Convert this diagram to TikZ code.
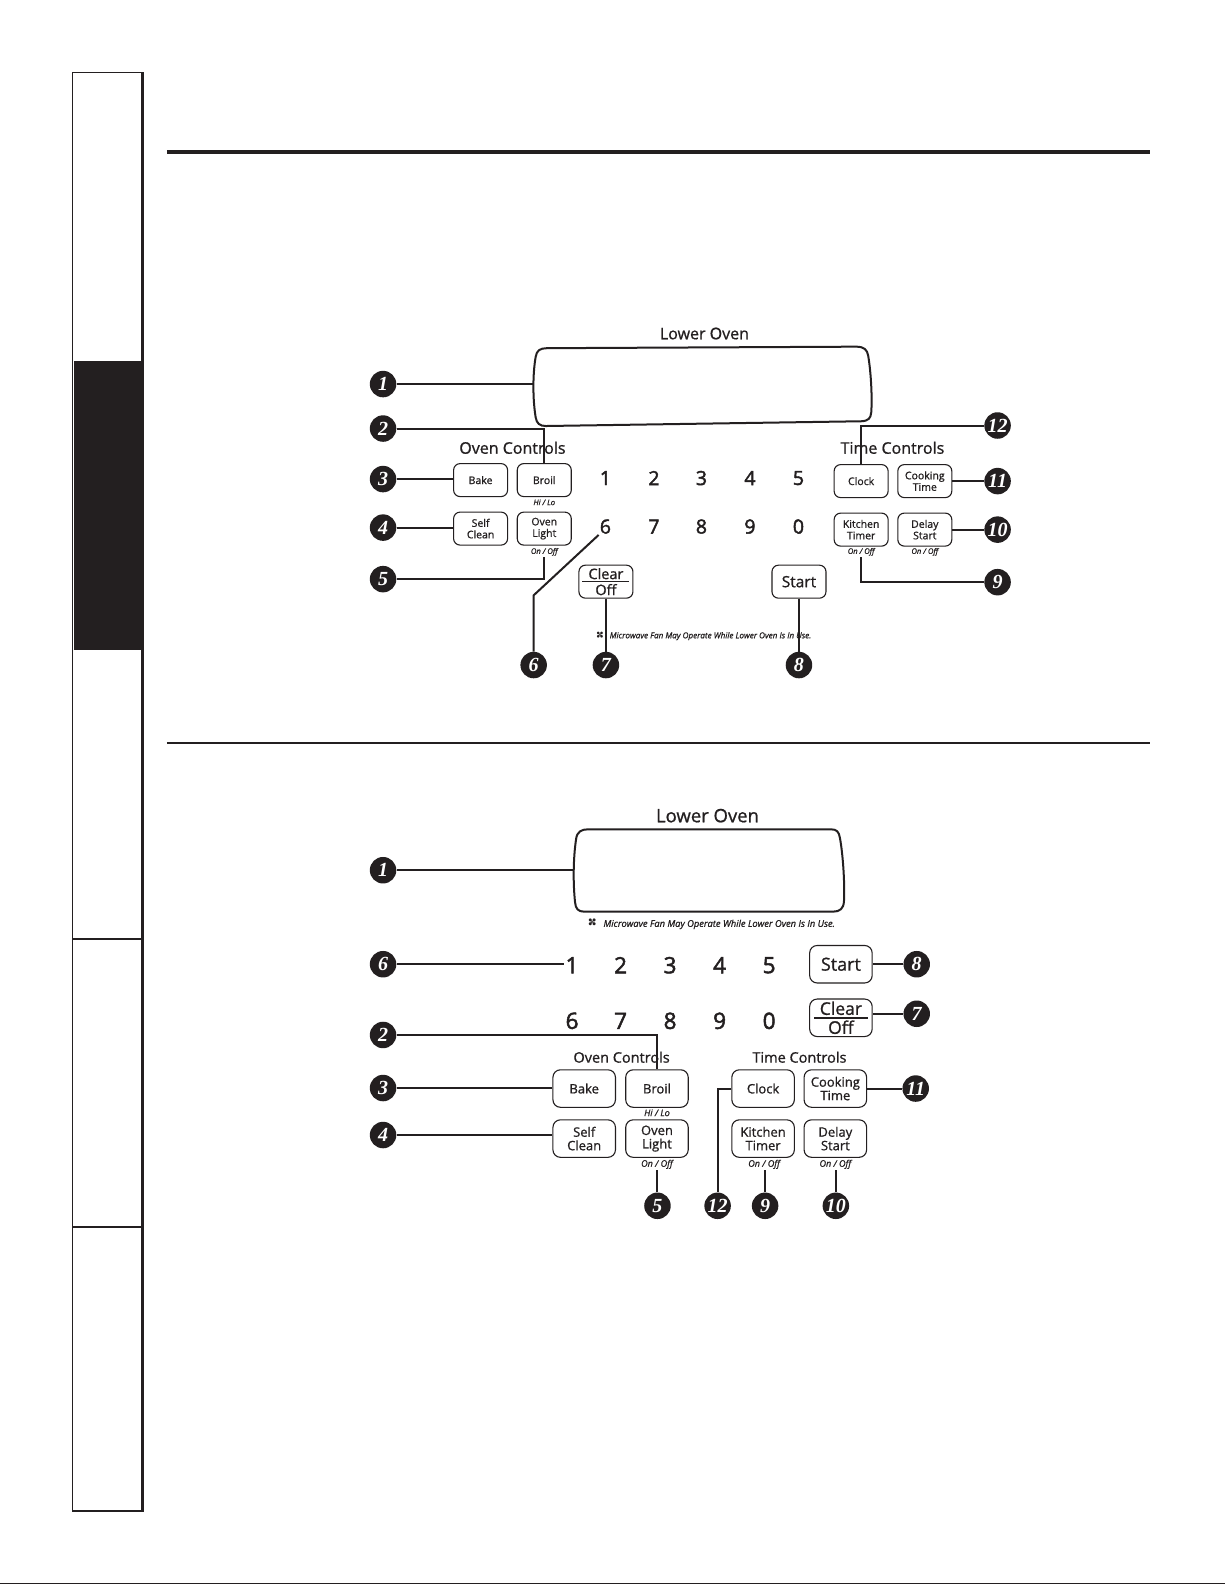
\documentclass[tikz,border=0pt]{standalone}
\usepackage{fontspec}
\setmainfont{Open Sans}[FakeBold=0.9]
\newfontfamily\digfont{Open Sans}[FakeBold=2.2]
\newfontfamily\numfont{Liberation Serif}
\newfontfamily\symfont{DejaVu Sans}
\definecolor{ink}{RGB}{35,31,32}
\newcommand\fsz[2]{\fontsize{#1}{#2}\selectfont}
\newcommand\fanicon{{\symfont\fontsize{1.2em}{1em}\selectfont\rotatebox[origin=c]{45}{✤}}}
\tikzset{
  num/.style={circle, fill=ink, text=white, minimum size=26.5, inner sep=0pt,
    font=\numfont\itshape\bfseries\fsz{20}{20}},
  btn/.style={draw=ink, line width=1.1pt, rounded corners=6.5pt, minimum width=54,
    minimum height=33, inner sep=0pt, align=center, text=ink, font=\fsz{10.5}{11.5}},
  btnL/.style={btn, minimum width=62.5, minimum height=37.5, rounded corners=7.5pt, font=\fsz{13}{13.5}},
  conn/.style={draw=ink, line width=2pt},
  dig/.style={text=ink, inner sep=1pt, font=\digfont\fsz{19.5}{19.5}},
  digL/.style={text=ink, inner sep=1pt, font=\digfont\fsz{22.5}{22.5}},
  head/.style={text=ink, inner sep=1pt, font=\fsz{16}{16}},
  note/.style={text=ink, inner sep=1pt, font=\itshape\fsz{7.6}{7.6}},
  disp/.style={draw=ink, line width=2pt},
}
\begin{document}
\begin{tikzpicture}[x=1.0107pt,y=-1.0107pt]
\useasboundingbox[fill=white] (0,0) rectangle (1212,1568.2);

% ---------- side tab frame ----------
\fill[ink] (73,357) rectangle (141,643);
\draw[ink, line width=1.2pt] (72,72) -- (72,1495);
\draw[ink, line width=2.4pt] (141,71.5) -- (141,1496);
\draw[ink, line width=1.4pt] (71.4,72) -- (141,72);
\draw[ink, line width=2pt] (71.4,1495) -- (141,1495);
\draw[ink, line width=2.4pt] (72,929) -- (141,929);
\draw[ink, line width=2.4pt] (72,1214) -- (141,1214);

% ---------- rules ----------
\draw[ink, line width=3.8pt] (165,150) -- (1138,150);
\draw[ink, line width=2pt] (165,735) -- (1138,735);
\draw[ink, line width=1.5pt] (0,1566.7) -- (1212,1566.7);

% =================== TOP PANEL ===================
\node[head] (lo1) at (697,330) {Lower Oven};
\draw[disp] (541,344.5) -- (847,343) .. controls (855,343) and (858,346) .. (859,352)
  .. controls (862,370) and (863,395) .. (862,408)
  .. controls (861.5,414) and (859,416.5) .. (852,416.8)
  -- (540,421.5) .. controls (534,421.5) and (531,419) .. (530,413)
  .. controls (527,395) and (527,370) .. (530,353)
  .. controls (531,347) and (534,344.5) .. (541,344.5) -- cycle;
\coordinate (dispA) at (528.2,380);

\node[head] (oc1) at (507,443) {Oven Controls};
\node[head] (tc1) at (883,443) {Time Controls};

\node[btn] (bake1) at (475.5,475) {Bake};
\node[btn] (broil1) at (538.5,475) {Broil};
\node[btn] (self1) at (475.5,523) {Self\\Clean};
\node[btn] (light1) at (538.5,523) {Oven\\Light};
\node[note] (hilo1) at (538.5,497) {Hi / Lo};
\node[note] (onoff1) at (538.5,546) {On / Off};

\node[btn] (clock1) at (852,476) {Clock};
\node[btn] (cook1) at (915,476) {Cooking\\Time};
\node[btn] (kt1) at (852,524) {Kitchen\\Timer};
\node[btn] (ds1) at (915,524) {Delay\\Start};
\node[note] (onoffkt1) at (852,546) {On / Off};
\node[note] (onoffds1) at (915,546) {On / Off};

\foreach \d/\x in {1/599,2/647,3/694,4/742,5/790}
  \node[dig] (ta\d) at (\x,473) {\d};
\foreach \d/\x in {6/599,7/647,8/694,9/742,0/790}
  \node[dig] (tb\d) at (\x,521) {\d};

\node[btn, font=\fsz{14.5}{16}] (co1) at (599.5,575.5) {Clear\\Off};
\draw[ink, line width=1.5pt] ([xshift=4]co1.west) -- ([xshift=-4]co1.east);
\node[btn, font=\fsz{15.5}{16}] (st1) at (790.5,575.5) {Start};

\node[note, font=\itshape\fsz{8.1}{8.1}] (mw1) at (695.5,628) {\fanicon\ \ Microwave Fan May Operate While Lower Oven Is In Use.};

\node[num] (a1) at (379,380) {1};
\node[num] (a2) at (379,424) {2};
\node[num] (a3) at (379,474) {3};
\node[num] (a4) at (379,522) {4};
\node[num] (a5) at (379,573) {5};
\node[num] (a6) at (528,658) {6};
\node[num] (a7) at (599.5,658) {7};
\node[num] (a8) at (790.5,658) {8};
\node[num] (a9) at (987,576) {9};
\node[num] (a10) at (987,524) {10};
\node[num] (a11) at (987,476) {11};
\node[num] (a12) at (987,421) {12};

\coordinate (k6) at (528,589);
\path[conn] (a1.east) -- (a1.east -| dispA);
\path[conn] (a2.east) -| (broil1.north);
\path[conn] (a3.east) -- (a3.east -| bake1.west);
\path[conn] (a4.east) -- (a4.east -| self1.west);
\path[conn] (a5.east) -| (onoff1.south);
\path[conn] (a6.north) -- (k6) -- (tb6.south west);
\path[conn] (co1.south) -- (a7.north);
\path[conn] (st1.south) -- (a8.north);
\path[conn] (a9.west) -| (onoffkt1.south);
\path[conn] (a10.west) -- (a10.west -| ds1.east);
\path[conn] (a11.west) -- (a11.west -| cook1.east);
\path[conn] (a12.west) -| (clock1.north);

% =================== BOTTOM PANEL ===================
\node[head, font=\fsz{18.5}{18.5}] (lo2) at (700,807) {Lower Oven};
\draw[disp] (582,820.5) -- (822,820.5) .. controls (828,820.5) and (830,823) .. (831,829)
  .. controls (834,845) and (836,875) .. (835,892)
  .. controls (834.5,899) and (831,902) .. (824,902)
  -- (578,902) .. controls (572,902) and (569.5,899) .. (569,893)
  .. controls (567,875) and (567,850) .. (570,830)
  .. controls (571,823) and (575,820.5) .. (582,820.5) -- cycle;
\coordinate (dispB) at (567.8,861);
\node[note, font=\itshape\fsz{9.3}{9.3}] (mw2) at (703,913) {\fanicon\ \ Microwave Fan May Operate While Lower Oven Is In Use.};

\foreach \d/\x in {1/566,2/614,3/663,4/712,5/761}
  \node[digL] (ba\d) at (\x,955) {\d};
\foreach \d/\x in {6/566,7/614,8/663,9/712,0/761}
  \node[digL] (bb\d) at (\x,1010) {\d};

\node[btnL, font=\fsz{18}{18}] (st2) at (832,954) {Start};
\node[btnL, font=\fsz{17.5}{19}] (co2) at (832,1007) {Clear\\Off};
\draw[ink, line width=1.7pt] ([xshift=5]co2.west) -- ([xshift=-5]co2.east);

\node[head, font=\fsz{14.5}{14.5}] (oc2) at (615,1046) {Oven Controls};
\node[head, font=\fsz{14.5}{14.5}] (tc2) at (791,1046) {Time Controls};

\node[btnL] (bake2) at (578,1077) {Bake};
\node[btnL] (broil2) at (650,1077) {Broil};
\node[btnL] (self2) at (578,1126.5) {Self\\Clean};
\node[btnL] (light2) at (650,1126.5) {Oven\\Light};
\node[note, font=\itshape\fsz{9}{9}] (hilo2) at (650,1101) {Hi / Lo};
\node[note, font=\itshape\fsz{9}{9}] (onoff2) at (650,1152) {On / Off};

\node[btnL] (clock2) at (755,1077) {Clock};
\node[btnL] (cook2) at (826.5,1077) {Cooking\\Time};
\node[btnL] (kt2) at (755,1126.5) {Kitchen\\Timer};
\node[btnL] (ds2) at (826.5,1126.5) {Delay\\Start};
\node[note, font=\itshape\fsz{9}{9}] (onoffkt2) at (756,1152) {On / Off};
\node[note, font=\itshape\fsz{9}{9}] (onoffds2) at (826.5,1152) {On / Off};

\node[num] (b1) at (379,861) {1};
\node[num] (b6) at (379,954) {6};
\node[num] (b2) at (379,1024) {2};
\node[num] (b3) at (379,1076.5) {3};
\node[num] (b4) at (379,1123) {4};
\node[num] (b5) at (650.5,1193) {5};
\node[num] (b12) at (710,1193) {12};
\node[num] (b9) at (757,1193) {9};
\node[num] (b10) at (827,1193) {10};
\node[num] (b8) at (907,954) {8};
\node[num] (b7) at (907,1003) {7};
\node[num] (b11) at (906,1077) {11};

\path[conn] (b1.east) -- (b1.east -| dispB);
\path[conn] (b6.east) -- (b6.east -| ba1.west);
\path[conn] (b2.east) -| (broil2.north);
\path[conn] (b3.east) -- (b3.east -| bake2.west);
\path[conn] (b4.east) -- (b4.east -| self2.west);
\path[conn] (b5.north) -- (b5.north |- onoff2.south);
\path[conn] (clock2.west) -| (b12.north);
\path[conn] (b9.north) -- (b9.north |- onoffkt2.south);
\path[conn] (b10.north) -- (b10.north |- onoffds2.south);
\path[conn] (b8.west) -- (b8.west -| st2.east);
\path[conn] (b7.west) -- (b7.west -| co2.east);
\path[conn] (b11.west) -- (b11.west -| cook2.east);
\end{tikzpicture}
\end{document}
